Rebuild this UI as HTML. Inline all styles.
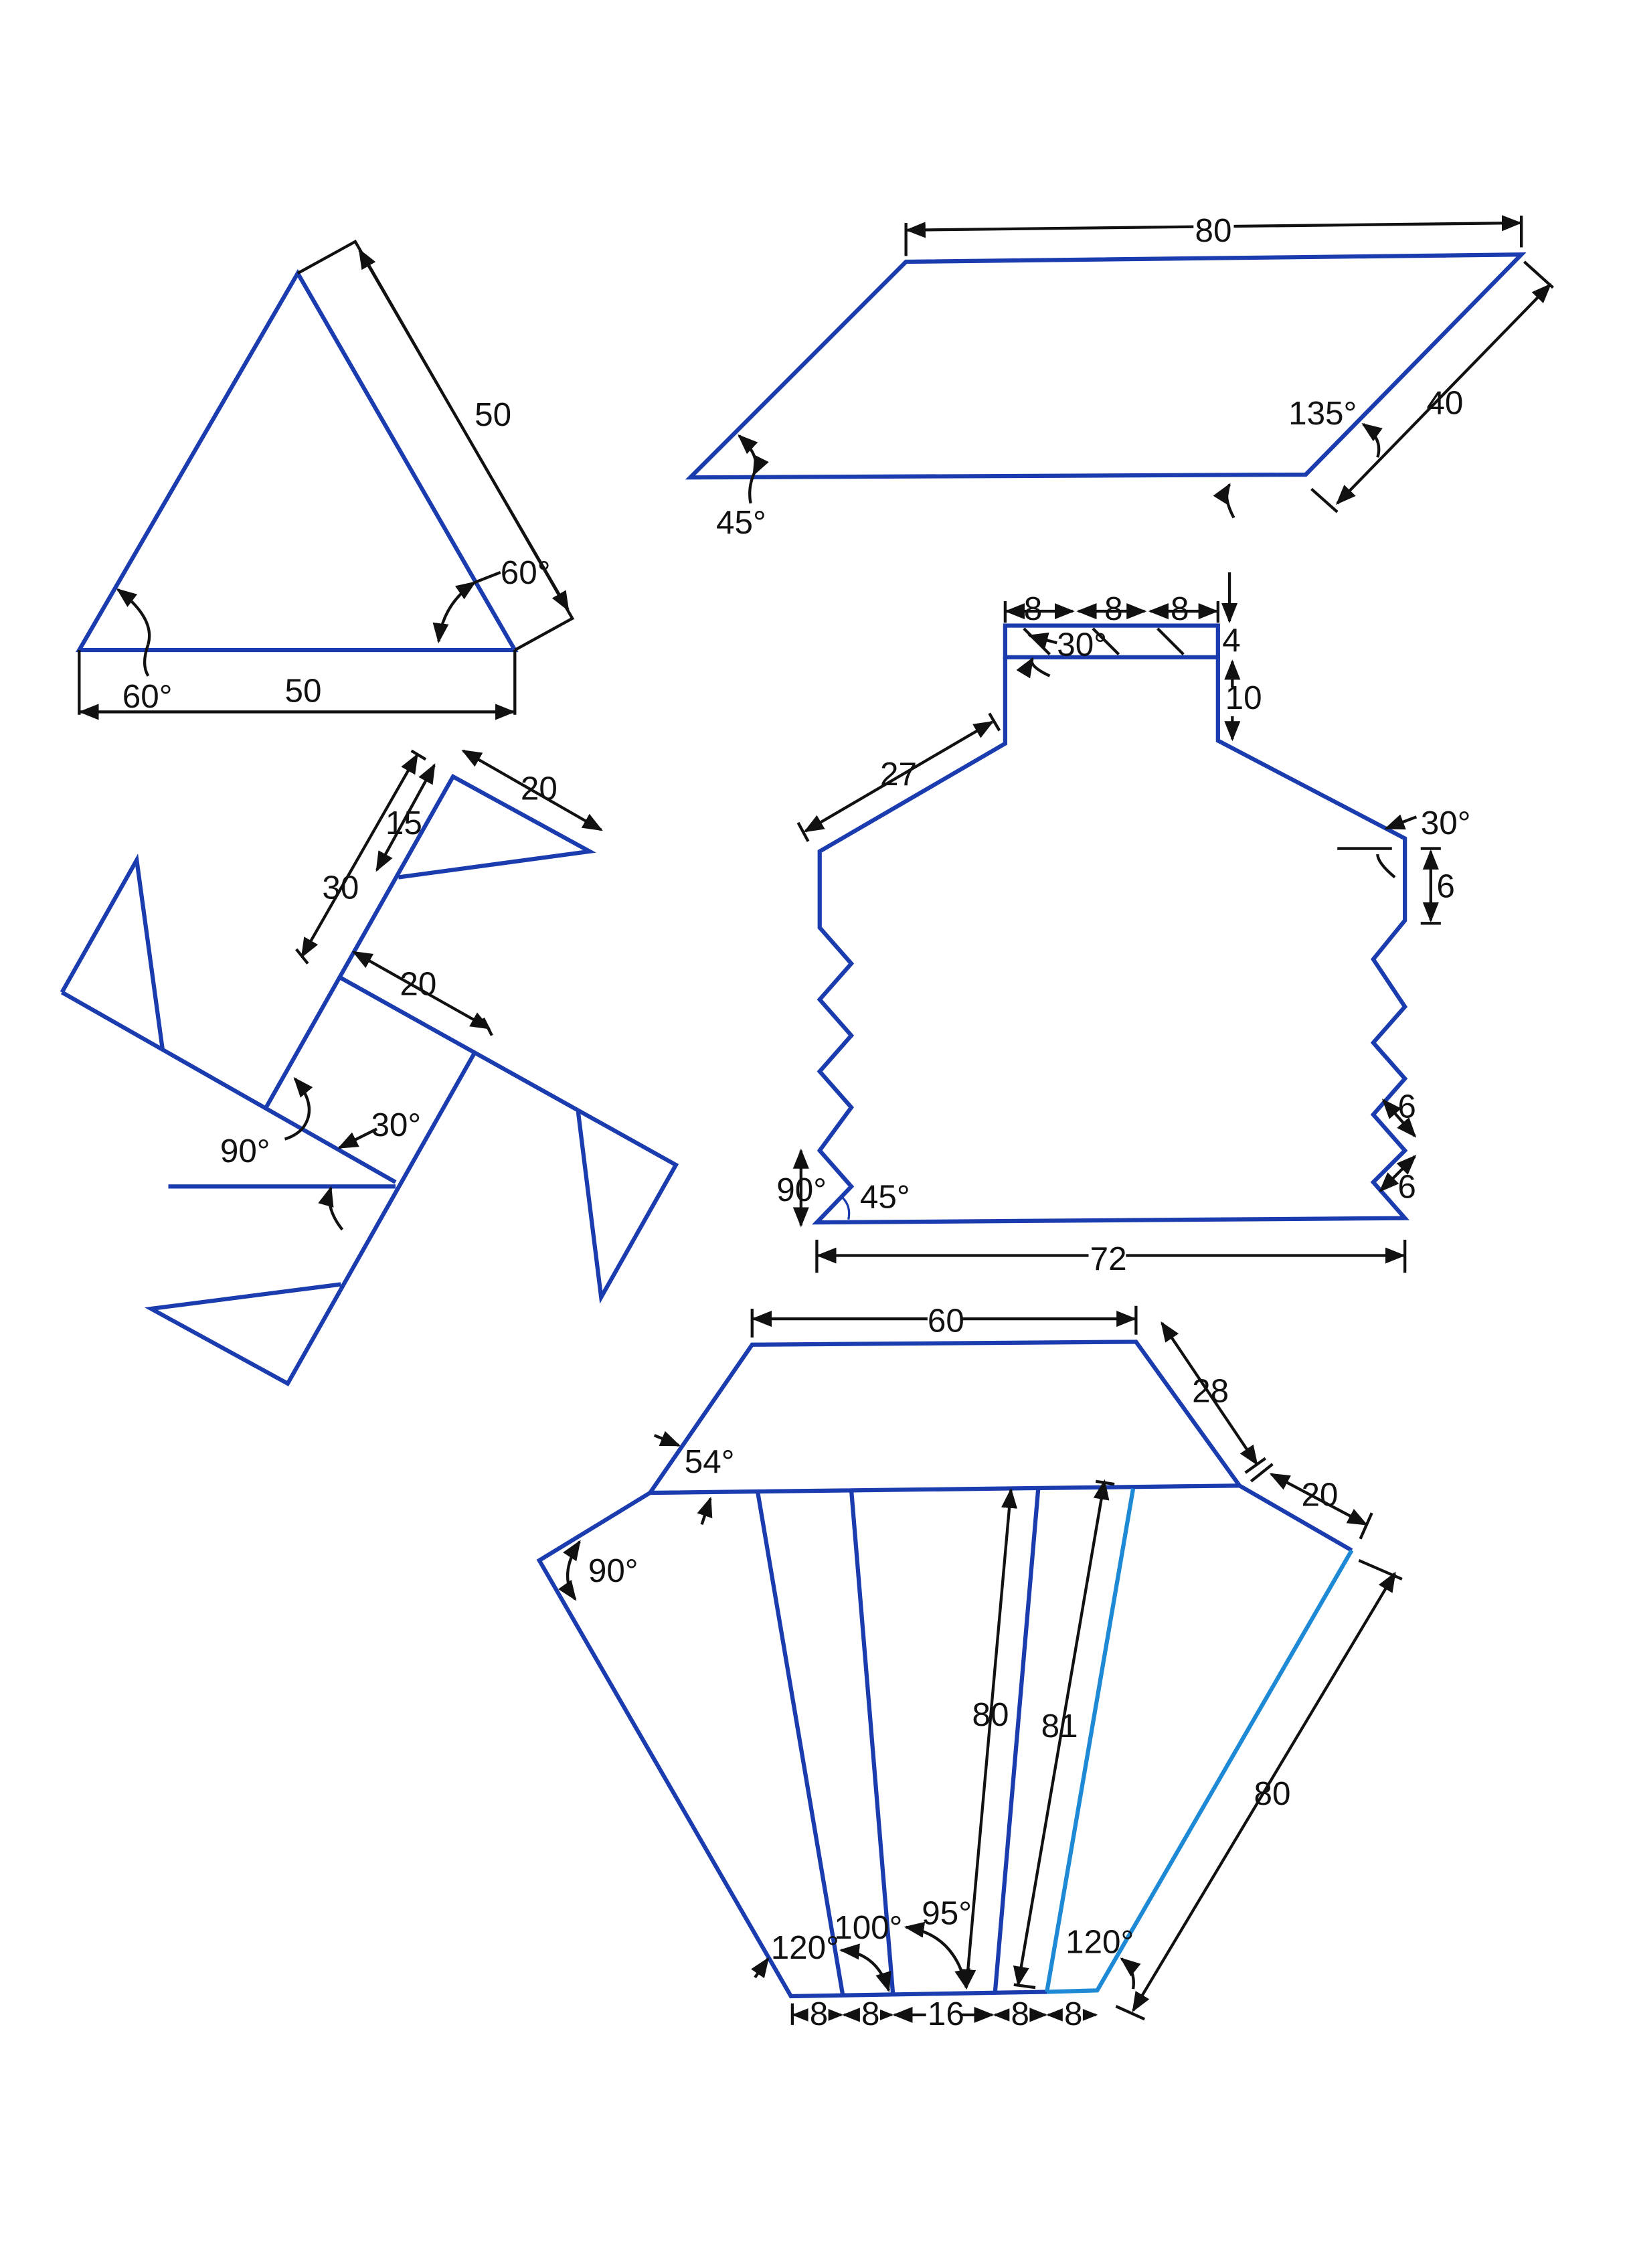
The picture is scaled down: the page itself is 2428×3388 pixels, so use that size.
<!DOCTYPE html>
<html><head><meta charset="utf-8"><style>
html,body{margin:0;padding:0;background:#fff}
svg{display:block}
text{font-family:"Liberation Sans",sans-serif;font-size:23px;fill:#111}
.b{stroke:#1a3cae;stroke-width:2.9;fill:none;stroke-linejoin:miter}
.lb{stroke:#1e8ad6;stroke-width:2.9;fill:none}
.k{stroke:#111;stroke-width:2;fill:none}
</style></head><body>
<svg width="2428" height="3388" viewBox="0 0 1130 1577" xmlns="http://www.w3.org/2000/svg">
<defs>
<marker id="a" viewBox="0 0 10 10" refX="9" refY="5" markerWidth="7" markerHeight="7" orient="auto-start-reverse"><path d="M0,1 L10,5 L0,9z" fill="#111"/></marker>
</defs>

<!-- Triangle -->
<path class="b" d="M55,452 L207,190 L358,452 Z"/>
<path class="k" d="M207,190 L247,168 L398,430 L358,452"/>
<line class="k" x1="250" y1="174" x2="395" y2="424" marker-start="url(#a)" marker-end="url(#a)"/>
<path class="k" d="M55,452 L55,497 M358,452 L358,497"/>
<line class="k" x1="56" y1="495" x2="357" y2="495" marker-start="url(#a)" marker-end="url(#a)"/>
<path class="k" d="M82,410 Q108,430 103,448" marker-start="url(#a)"/>
<path class="k" d="M103,448 Q98,462 103,470"/>
<path class="k" d="M330,405 Q308,420 305,446" marker-start="url(#a)" marker-end="url(#a)"/>
<path class="k" d="M330,405 L348,398"/>
<text x="330" y="296">50</text>
<text x="348" y="406">60°</text>
<text x="85" y="492">60°</text>
<text x="198" y="488">50</text>

<!-- Parallelogram -->
<path class="b" d="M480,332 L630,182 L1058,177 L908,330 Z"/>
<path class="k" d="M630,155 L630,178 M1058,150 L1058,172"/>
<line class="k" x1="631" y1="160" x2="1057" y2="155" marker-start="url(#a)" marker-end="url(#a)"/>
<path class="k" d="M1060,182 L1080,200 M912,340 L930,356"/>
<line class="k" x1="930" y1="350" x2="1078" y2="198" marker-start="url(#a)" marker-end="url(#a)"/>
<path class="k" d="M514,303 Q530,318 524,330" marker-start="url(#a)" marker-end="url(#a)"/>
<path class="k" d="M524,330 Q520,340 522,350"/>
<path class="k" d="M948,295 Q962,305 958,318" marker-start="url(#a)"/>
<path class="k" d="M858,360 Q850,345 855,337" marker-end="url(#a)"/>
<rect x="830" y="148" width="28" height="22" fill="#fff"/>
<text x="831" y="168">80</text>
<text x="992" y="288">40</text>
<text x="896" y="295">135°</text>
<text x="498" y="371">45°</text>

<!-- Bottle -->
<rect class="b" x="699" y="435" width="148" height="22"/>
<path class="k" d="M712,437 L730,455 M760,437 L778,455 M805,437 L823,455"/>
<path class="b" d="M699,457 L699,517 L570,592 L570,645 L592,670 L570,695 L592,720 L570,745 L592,770 L570,800 L592,825 L568,850 L977,847 L955,822 L977,800 L955,775 L977,750 L955,725 L977,700 L955,667 L977,640 L977,583 L847,515 L847,457"/>
<line class="k" x1="700" y1="425" x2="746" y2="425" marker-start="url(#a)" marker-end="url(#a)"/>
<line class="k" x1="750" y1="425" x2="796" y2="425" marker-start="url(#a)" marker-end="url(#a)"/>
<line class="k" x1="800" y1="425" x2="846" y2="425" marker-start="url(#a)" marker-end="url(#a)"/>
<path class="k" d="M699,418 L699,433 M847,418 L847,433"/>
<line class="k" x1="855" y1="398" x2="855" y2="432" marker-end="url(#a)"/>
<line class="k" x1="857" y1="478" x2="857" y2="460" marker-end="url(#a)"/>
<line class="k" x1="857" y1="498" x2="857" y2="514" marker-end="url(#a)"/>
<line class="k" x1="560" y1="578" x2="690" y2="502" marker-start="url(#a)" marker-end="url(#a)"/>
<path class="k" d="M555,572 L562,585 M688,496 L695,508"/>
<path class="k" d="M730,470 Q715,463 718,458" marker-end="url(#a)"/>
<path class="k" d="M735,447 L716,442" marker-end="url(#a)"/>
<path class="k" d="M985,568 L964,576" marker-end="url(#a)"/>
<path class="k" d="M930,590 L968,590 M970,610 Q958,600 958,594" />
<path class="k" d="M988,590 L1002,590 M988,642 L1002,642"/>
<line class="k" x1="995" y1="592" x2="995" y2="640" marker-start="url(#a)" marker-end="url(#a)"/>
<line class="k" x1="962" y1="765" x2="984" y2="790" marker-start="url(#a)" marker-end="url(#a)"/>
<line class="k" x1="984" y1="804" x2="960" y2="828" marker-start="url(#a)" marker-end="url(#a)"/>
<line class="k" x1="557" y1="800" x2="557" y2="852" marker-start="url(#a)" marker-end="url(#a)"/>
<path d="M590,848 Q592,838 585,832" stroke="#1a3cae" stroke-width="1.5" fill="none"/>
<path class="k" d="M568,862 L568,885 M977,862 L977,885"/>
<line class="k" x1="569" y1="873" x2="976" y2="873" marker-start="url(#a)" marker-end="url(#a)"/>
<text x="712" y="431" font-size="20">8</text>
<text x="768" y="431" font-size="20">8</text>
<text x="814" y="431" font-size="20">8</text>
<text x="735" y="456">30°</text>
<text x="850" y="453">4</text>
<text x="852" y="493">10</text>
<text x="612" y="546">27</text>
<text x="988" y="580">30°</text>
<text x="999" y="624">6</text>
<text x="972" y="777">6</text>
<text x="972" y="833">6</text>
<text x="540" y="835">90°</text>
<text x="598" y="840" font-size="11">45°</text>
<rect x="757" y="864" width="26" height="20" fill="#fff"/>
<text x="758" y="883">72</text>

<!-- Pinwheel -->
<path class="b" d="M43,690 L95,598 L113,730"/>
<path class="b" d="M43,690 L275,822"/>
<path class="b" d="M185,770 L315,540 L410,592 L277,610"/>
<path class="b" d="M237,680 L470,810 L418,902 L402,773"/>
<path class="b" d="M330,732 L200,962 L105,910 L237,893"/>
<line class="b" x1="117" y1="825" x2="275" y2="825"/>
<line class="k" x1="210" y1="665" x2="290" y2="525" marker-start="url(#a)" marker-end="url(#a)"/>
<path class="k" d="M206,660 L214,670 M286,522 L296,528"/>
<line class="k" x1="262" y1="605" x2="302" y2="532" marker-start="url(#a)" marker-end="url(#a)"/>
<line class="k" x1="322" y1="522" x2="418" y2="577" marker-start="url(#a)" marker-end="url(#a)"/>
<line class="k" x1="246" y1="662" x2="340" y2="715" marker-start="url(#a)" marker-end="url(#a)"/>
<path class="k" d="M336,708 L342,720"/>
<path class="k" d="M205,750 Q222,770 210,785" marker-start="url(#a)"/>
<path class="k" d="M210,785 Q205,790 198,792"/>
<path class="k" d="M262,785 L236,798" marker-end="url(#a)"/>
<path class="k" d="M238,855 Q226,840 230,826" marker-end="url(#a)"/>
<text x="268" y="580">15</text>
<text x="224" y="625">30</text>
<text x="362" y="556">20</text>
<text x="278" y="692">20</text>
<text x="153" y="808">90°</text>
<text x="258" y="790">30°</text>

<!-- Bottom shape -->
<path class="b" d="M452,1038 L523,935 L790,933 L862,1033 Z"/>
<path class="b" d="M452,1038 L375,1085 L550,1388 L728,1385"/>
<path class="b" d="M862,1033 L940,1078"/>
<path class="lb" d="M940,1078 L763,1384 L728,1385"/>
<path class="b" d="M527,1038 L586,1387 M592,1036 L621,1387 M722,1035 L692,1385"/>
<path class="lb" d="M788,1035 L728,1385"/>
<path class="k" d="M523,910 L523,930 M790,908 L790,928"/>
<line class="k" x1="524" y1="917" x2="789" y2="917" marker-start="url(#a)" marker-end="url(#a)"/>
<line class="k" x1="808" y1="920" x2="874" y2="1018" marker-start="url(#a)" marker-end="url(#a)"/>
<path class="k" d="M866,1024 L880,1014 M870,1030 L885,1018"/>
<line class="k" x1="884" y1="1025" x2="950" y2="1060" marker-start="url(#a)" marker-end="url(#a)"/>
<path class="k" d="M946,1070 L954,1052"/>
<path class="k" d="M945,1085 L975,1098 M776,1395 L796,1404"/>
<line class="k" x1="788" y1="1398" x2="970" y2="1094" marker-start="url(#a)" marker-end="url(#a)"/>
<line class="k" x1="672" y1="1382" x2="703" y2="1036" marker-start="url(#a)" marker-end="url(#a)"/>
<line class="k" x1="708" y1="1380" x2="768" y2="1030" marker-start="url(#a)" marker-end="url(#a)"/>
<path class="k" d="M705,1380 L720,1382 M762,1030 L775,1032"/>
<path class="k" d="M455,998 L472,1005" marker-end="url(#a)"/>
<path class="k" d="M488,1060 L494,1042" marker-end="url(#a)"/>
<path class="k" d="M403,1072 Q388,1095 400,1112" marker-start="url(#a)" marker-end="url(#a)"/>
<path class="k" d="M525,1375 L534,1362" marker-end="url(#a)"/>
<path class="k" d="M618,1384 Q610,1358 585,1356" marker-start="url(#a)" marker-end="url(#a)"/>
<path class="k" d="M672,1382 Q664,1345 630,1340" marker-start="url(#a)" marker-end="url(#a)"/>
<path class="k" d="M788,1383 Q790,1370 780,1362" marker-end="url(#a)"/>
<line class="k" x1="551" y1="1393" x2="551" y2="1408"/>
<line class="k" x1="552" y1="1401" x2="585" y2="1401" marker-start="url(#a)" marker-end="url(#a)"/>
<line class="k" x1="587" y1="1401" x2="620" y2="1401" marker-start="url(#a)" marker-end="url(#a)"/>
<line class="k" x1="622" y1="1401" x2="690" y2="1401" marker-start="url(#a)" marker-end="url(#a)"/>
<line class="k" x1="692" y1="1401" x2="727" y2="1401" marker-start="url(#a)" marker-end="url(#a)"/>
<line class="k" x1="729" y1="1401" x2="762" y2="1401" marker-start="url(#a)" marker-end="url(#a)"/>
<rect x="645" y="908" width="24" height="20" fill="#fff"/>
<text x="645" y="926">60</text>
<text x="829" y="975">28</text>
<text x="905" y="1047">20</text>
<text x="476" y="1024" font-size="19">54°</text>
<text x="409" y="1100" font-size="19">90°</text>
<text x="676" y="1200">80</text>
<text x="724" y="1208">81</text>
<text x="872" y="1255">80</text>
<text x="536" y="1362" font-size="19">120°</text>
<text x="580" y="1348" font-size="19">100°</text>
<text x="641" y="1338" font-size="19">95°</text>
<text x="741" y="1358" font-size="19">120°</text>
<rect x="562" y="1392" width="14" height="18" fill="#fff"/><text x="563" y="1408" font-size="19">8</text>
<rect x="598" y="1392" width="14" height="18" fill="#fff"/><text x="599" y="1408" font-size="19">8</text>
<rect x="644" y="1392" width="24" height="18" fill="#fff"/><text x="645" y="1408" font-size="19">16</text>
<rect x="702" y="1392" width="14" height="18" fill="#fff"/><text x="703" y="1408" font-size="19">8</text>
<rect x="739" y="1392" width="14" height="18" fill="#fff"/><text x="740" y="1408" font-size="19">8</text>
</svg>
</body></html>
